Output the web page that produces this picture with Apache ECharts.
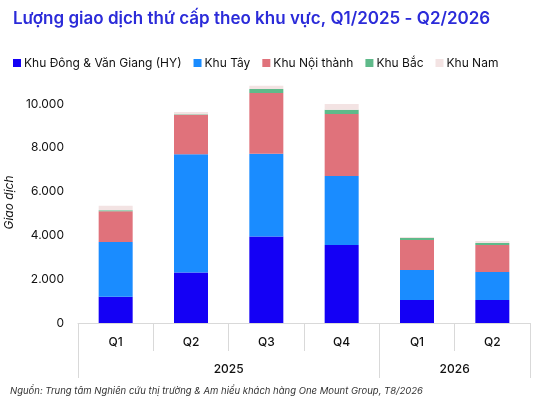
<!DOCTYPE html>
<html><head><meta charset="utf-8">
<script src="https://cdn.jsdelivr.net/npm/echarts@6/dist/echarts.min.js"></script>
<style>html,body{margin:0;background:#fff}#main{width:550px;height:408px}</style>
</head><body><div id="main"></div>
<script>
const quarters = ['Q1', 'Q2', 'Q3', 'Q4', 'Q1', 'Q2'];
const years = ['2025', '2026'];
const seriesNames = ['Khu Đông & Văn Giang (HY)', 'Khu Tây', 'Khu Nội thành', 'Khu Bắc', 'Khu Nam'];
const dong = [1200, 2300, 3950, 3560, 1050, 1050];
const tay = [2500, 5400, 3770, 3150, 1370, 1280];
const noiThanh = [1400, 1800, 2780, 2830, 1370, 1230];
const bac = [50, 30, 180, 190, 90, 90];
const nam = [200, 100, 150, 270, 50, 90];
const colors = ['#1400f5', '#1a8cff', '#e0727b', '#5fba8a', '#f3e3e3'];
const font = 'Inter';

const myChart = echarts.init(document.getElementById('main'));
const gray = '#d9d9d9';
option = {
	textStyle: { fontFamily: font },
	title: {
		text: 'Lượng giao dịch thứ cấp theo khu vực, Q1/2025 - Q2/2026',
		left: 8, top: 5,
		textStyle: { color: '#2b2bd9', fontSize: 17, fontWeight: 600, fontFamily: font }
	},
	legend: {
		left: 8, top: 52, itemWidth: 8, itemHeight: 8, itemGap: 12, icon: 'rect',
		textStyle: { fontSize: 12, color: '#111', padding: [0, 0, 0, -2] },
		data: seriesNames
	},
	grid: { left: 78, right: 20, top: 82, bottom: 85, containLabel: false, outerBoundsMode: 'none' },
	xAxis: [
		{
			type: 'category', data: quarters,
			axisLine: { lineStyle: { color: gray } },
			axisTick: { show: false },
			axisLabel: { color: '#111', fontSize: 12, fontWeight: 500, margin: 13 }
		},
		{
			type: 'value', min: 0, max: 6, position: 'bottom', offset: 0,
			axisLine: { show: false }, splitLine: { show: false },
			axisTick: { show: true, length: 55, customValues: [0, 4, 6], lineStyle: { color: gray } },
			axisLabel: {
				customValues: [2, 5], color: '#111', fontSize: 12, fontWeight: 500, margin: 40,
				formatter: v => (v === 2 ? years[0] : years[1])
			}
		},
		{
			type: 'value', min: 0, max: 6, position: 'bottom', offset: 0,
			axisLine: { show: false }, splitLine: { show: false },
			axisTick: { show: true, length: 28, customValues: [1, 2, 3, 5], lineStyle: { color: gray } },
			axisLabel: { show: false }
		}
	],
	yAxis: {
		type: 'value', min: 0, max: 11000, interval: 2000,
		name: 'Giao dịch', nameLocation: 'middle', nameGap: 50,
		nameTextStyle: { fontStyle: 'italic', fontSize: 12, color: '#111' },
		axisLine: { show: false }, axisTick: { show: false }, splitLine: { show: false },
		axisLabel: {
			color: '#111', fontSize: 12, margin: 14,
			customValues: [0, 2000, 4000, 6000, 8000, 10000],
			formatter: v => v.toString().replace(/\B(?=(\d{3})+(?!\d))/g, '.')
		}
	},
	graphic: [{
		type: 'text', left: 10, top: 386,
		style: {
			text: 'Nguồn: Trung tâm Nghiên cứu thị trường & Am hiểu khách hàng One Mount Group, T8/2026',
			fontStyle: 'italic', fontSize: 9.5, fill: '#333', fontFamily: font
		}
	}],
	series: [dong, tay, noiThanh, bac, nam].map((d, i) => ({
		name: seriesNames[i], type: 'bar', stack: 'total', data: d,
		barWidth: 34, itemStyle: { color: colors[i] }
	}))
};
myChart.setOption(option);
</script></body></html>
